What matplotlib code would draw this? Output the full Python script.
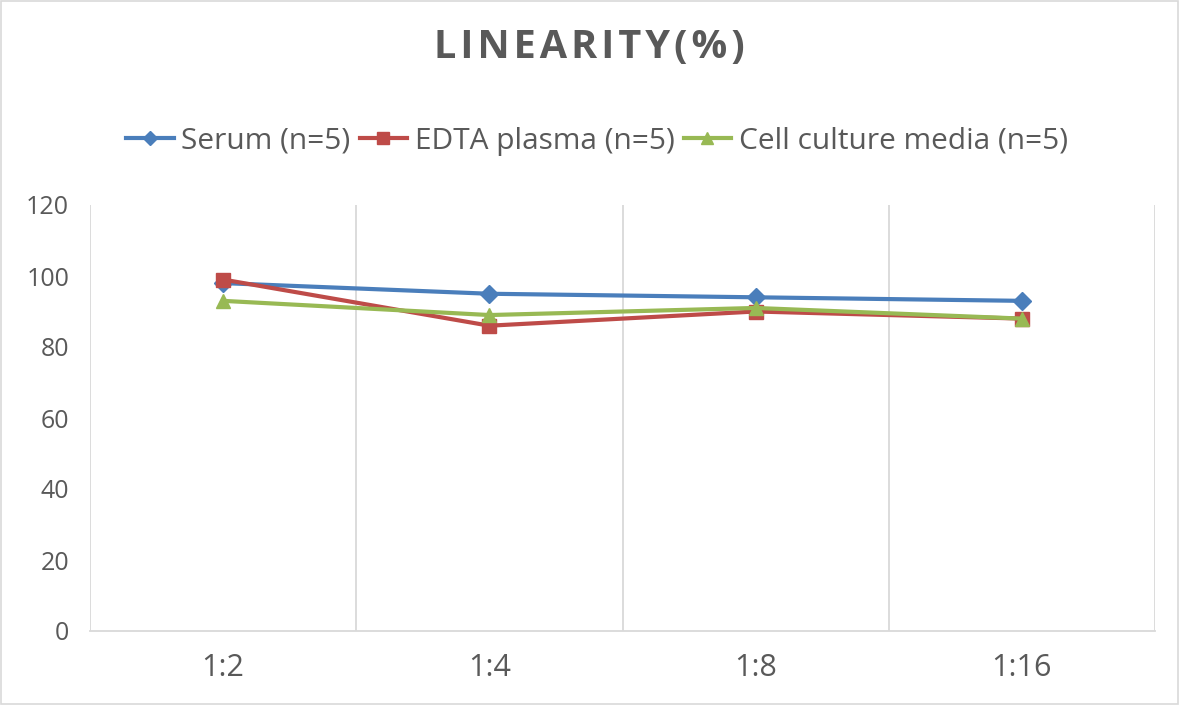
import matplotlib
matplotlib.use("Agg")
import matplotlib.pyplot as plt
from matplotlib.patches import Rectangle

# data
dilutions = ["1:2", "1:4", "1:8", "1:16"]
serum = [98, 95, 94, 93]
edta_plasma = [99, 86, 90, 88]
cell_media = [93, 89, 91, 88]
series_names = ["Serum (n=5)", "EDTA plasma (n=5)", "Cell culture media (n=5)"]
y_ticks = [0, 20, 40, 60, 80, 100, 120]

grey_text = "#595959"
grid_col = "#d9d9d9"
plt.rcParams['font.family'] = ['Open Sans', 'DejaVu Sans']

fig = plt.figure(figsize=(11.79, 7.05), dpi=100)
ax = fig.add_axes([90 / 1179, 1 - 631 / 705, (1155 - 90) / 1179, (631 - 205) / 705])

x = list(range(len(dilutions)))
ax.plot(x, serum, color="#4a7ebb", lw=3, marker="D", ms=9, label=series_names[0])
ax.plot(x, edta_plasma, color="#be4b48", lw=3, marker="s", ms=10, label=series_names[1])
ax.plot(x, cell_media, color="#98b954", lw=3, marker="^", ms=10, label=series_names[2])

ax.set_xlim(-0.5, len(dilutions) - 0.5)
ax.set_ylim(0, 120)
ax.set_yticks(y_ticks)
ax.set_xticks(x)
ax.set_xticklabels(dilutions)

# vertical lines between categories
ax.set_xticks([i - 0.5 for i in range(len(dilutions) + 1)], minor=True)
ax.grid(True, which="minor", axis="x", color=grid_col, lw=1.3)
ax.grid(False, which="major")
ax.set_axisbelow(True)

for s in ["top", "right", "left"]:
    ax.spines[s].set_visible(False)
ax.spines["bottom"].set_color(grid_col)
ax.spines["bottom"].set_linewidth(1.3)

ax.tick_params(axis="both", which="both", length=0, colors=grey_text)
ax.tick_params(axis="x", pad=16, labelsize=22)
ax.tick_params(axis="y", pad=15, labelsize=18)

fig.text(0.5, 1 - 48 / 705, "L I N E A R I T Y ( % )".replace(" ", "\u200a"),
         ha="center", va="center", fontsize=28.5, fontweight="bold", color=grey_text)

ax.legend(loc="center", bbox_to_anchor=((597 - 90) / 1065, (141 - 631) / (205 - 631)),
          bbox_transform=ax.transAxes, ncol=3, frameon=False, fontsize=21.5,
          labelcolor=grey_text, handlelength=1.6, handletextpad=0.25, columnspacing=0.3,
          markerscale=0.8)

fig.patches.append(Rectangle((0.001, 0.001), 0.998, 0.997, transform=fig.transFigure,
                             fill=False, edgecolor=grid_col, lw=1.2))

fig.savefig("out.png", dpi=100)
